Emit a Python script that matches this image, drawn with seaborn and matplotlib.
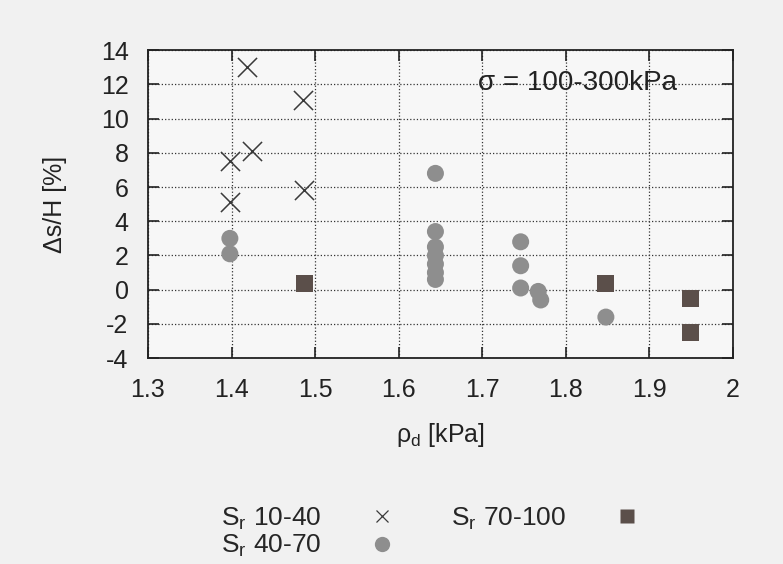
import numpy as np
import pandas as pd
import matplotlib
matplotlib.use("Agg")
import matplotlib.pyplot as plt
import seaborn as sns
from matplotlib.lines import Line2D

# Sr 10-40 (crosses)
rho_low = [1.418, 1.485, 1.398, 1.425, 1.398, 1.487]
ds_low = [13.0, 11.1, 7.5, 8.1, 5.1, 5.8]

# Sr 40-70 (grey dots)
rho_mid = [1.398, 1.398, 1.644, 1.644, 1.644, 1.644, 1.644, 1.644, 1.644,
           1.746, 1.746, 1.746, 1.767, 1.770, 1.848]
ds_mid = [3.0, 2.1, 6.8, 3.4, 2.5, 2.0, 1.5, 1.0, 0.6,
          2.8, 1.4, 0.1, -0.1, -0.6, -1.6]

# Sr 70-100 (dark squares)
rho_high = [1.487, 1.848, 1.949, 1.949]
ds_high = [0.35, 0.35, -0.5, -2.5]

x_ticks = [1.3, 1.4, 1.5, 1.6, 1.7, 1.8, 1.9, 2.0]
x_labels = ["1.3", "1.4", "1.5", "1.6", "1.7", "1.8", "1.9", "2"]
y_ticks = [-4, -2, 0, 2, 4, 6, 8, 10, 12, 14]

sns.set_style("ticks")
plt.rcParams["font.family"] = ["Liberation Sans", "DejaVu Sans"]
plt.rcParams["mathtext.default"] = "regular"
plt.rcParams["axes.unicode_minus"] = False

df_low = pd.DataFrame({"rho": rho_low, "ds": ds_low})
df_mid = pd.DataFrame({"rho": rho_mid, "ds": ds_mid})
df_high = pd.DataFrame({"rho": rho_high, "ds": ds_high})

c_low, c_mid, c_high = "#3a3a3a", "#8e8e8e", "#5b4f4a"
ink = "#222222"

fig = plt.figure(figsize=(7.83, 5.64), dpi=100, facecolor="#f1f1f1")
ax = fig.add_axes([0.189, 0.365, 0.747, 0.546])
ax.set_facecolor("#f7f7f7")

sns.scatterplot(data=df_low, x="rho", y="ds", marker="x", color=c_low,
                s=190, linewidth=1.1, ax=ax, zorder=3)
sns.scatterplot(data=df_mid, x="rho", y="ds", marker="o", color=c_mid,
                s=150, edgecolor="none", ax=ax, zorder=3)
sns.scatterplot(data=df_high, x="rho", y="ds", marker="s", color=c_high,
                s=150, edgecolor="none", ax=ax, zorder=3)

ax.set_xlim(1.3, 2.0)
ax.set_ylim(-4, 14)
ax.set_xticks(x_ticks)
ax.set_xticklabels(x_labels)
ax.set_yticks(y_ticks)
ax.grid(True, linestyle=":", color="#333333", linewidth=0.9)
ax.tick_params(direction="in", length=8, width=1.2, top=True, right=True,
               labelsize=18, colors=ink)
ax.tick_params(axis="x", pad=14)
ax.tick_params(axis="y", pad=14)
for sp in ax.spines.values():
    sp.set_linewidth(1.3)
    sp.set_color(ink)

ax.set_xlabel("ρ$_d$ [kPa]", fontsize=18, labelpad=14, color=ink)
ax.set_ylabel("Δs/H [%]", fontsize=18, labelpad=24, color=ink)
ax.text(1.695, 12.1, "σ = 100-300kPa", fontsize=20, va="center", color=ink)

handles = [
    Line2D([], [], marker="x", color=c_low, linestyle="none",
           markersize=9, markeredgewidth=0.9),
    Line2D([], [], marker="o", color=c_mid, linestyle="none",
           markersize=11, markeredgecolor="none"),
    Line2D([], [], marker="s", color=c_high, linestyle="none",
           markersize=10, markeredgecolor="none"),
]
labels = ["S$_r$ 10-40", "S$_r$ 40-70", "S$_r$ 70-100"]
fig.legend(handles, labels, loc="center", bbox_to_anchor=(0.55, 0.056),
           ncol=2, frameon=False, markerfirst=False, fontsize=19,
           handlelength=1.0, handletextpad=1.8, columnspacing=2.1,
           labelspacing=0.05)

fig.savefig("out.png", dpi=100, facecolor=fig.get_facecolor())
